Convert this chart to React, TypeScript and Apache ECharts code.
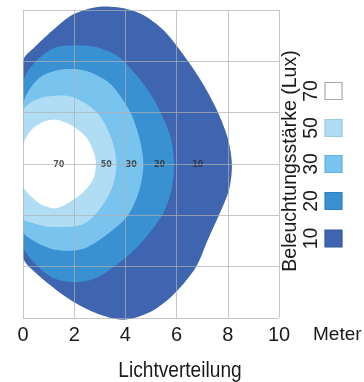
import React, { useEffect, useRef } from "react";
import * as echarts from "echarts";

// Contour outlines (x in Meter, y in Meter), per illuminance level
const level10: number[][] = [
  [0, 4.0], [0.45, 4.55], [1.26, 5.3], [1.9, 5.8], [2.7, 6.08], [3.4, 6.13], [4.1, 6.03], [4.8, 5.75],
  [5.55, 5.15], [6.45, 4.0], [7.1, 3.0], [7.62, 2.0], [8.0, 1.0], [8.16, 0], [8.05, -1.0], [7.65, -2.0],
  [7.2, -3.0], [6.73, -4.06], [5.8, -5.16], [4.9, -5.8], [3.9, -6.07], [2.82, -5.8], [1.65, -5.16],
  [0.3, -4.06], [0, -3.6],
];
const level20: number[][] = [
  [0, 3.1], [0.15, 3.55], [0.6, 4.1], [1.3, 4.55], [2.2, 4.62], [2.9, 4.55], [3.7, 4.2], [4.4, 3.5],
  [5.0, 2.7], [5.43, 1.9], [5.78, 1.0], [5.9, 0], [5.8, -1.0], [5.43, -2.0], [4.5, -3.2], [3.47, -4.06],
  [2.7, -4.5], [1.9, -4.6], [1.2, -4.45], [0.65, -4.06], [0.15, -3.5], [0, -3.15],
];
const level30: number[][] = [
  [0, 2.3], [0.25, 2.9], [0.7, 3.4], [1.4, 3.66], [2.2, 3.68], [2.8, 3.5], [3.47, 3.07], [4.2, 2.0],
  [4.55, 1.0], [4.7, 0], [4.55, -1.0], [4.1, -2.0], [3.47, -2.6], [2.5, -3.25], [1.8, -3.38],
  [1.1, -3.3], [0.36, -2.96], [0, -2.6],
];
const level50: number[][] = [
  [0, 2.05], [0.3, 2.4], [0.9, 2.62], [1.9, 2.62], [2.9, 2.0], [3.45, 1.0], [3.65, 0], [3.45, -1.0],
  [2.8, -2.0], [2.2, -2.4], [1.0, -2.44], [0.4, -2.3], [0, -2.1],
];
const level70: number[][] = [
  [0, 0.7], [0.3, 1.3], [0.8, 1.65], [1.3, 1.72], [1.9, 1.5], [2.5, 1.0], [2.83, 0.2], [2.78, -0.5],
  [2.45, -1.0], [1.95, -1.4], [1.3, -1.72], [0.7, -1.58], [0.25, -1.2], [0, -0.85],
];

const contours = [level10, level20, level30, level50, level70];
const levelNames = ["10", "20", "30", "50", "70"];
const levelColors = ["#3f64b0", "#3a91d2", "#78c4ee", "#b0dcf4", "#ffffff"];
const levelBorders = ["#34579c", "#3080bd", "#64b2dc", "#98c8e2", "#a8a8a8"];

// In-plot label positions on y = 0
const labelX = [6.83, 5.33, 4.23, 3.25, 1.4];
const labelText = ["10", "20", "30", "50", "70"];

const xTicks = [0, 2, 4, 6, 8, 10];

const FONT = "'Liberation Sans', Arial, sans-serif";

export default function App() {
  const ref = useRef<HTMLDivElement>(null);
  useEffect(() => {
    if (!ref.current) return;
    const chart = echarts.init(ref.current, undefined, { renderer: "svg" });

    const series: any[] = contours.map((pts, i) => ({
      type: "custom",
      name: levelNames[i],
      z: 2,
      silent: true,
      data: pts,
      renderItem: (params: any, api: any) => {
        if (params.dataIndex !== 0) return null;
        const px = pts.map((p) => api.coord(p));
        const x0 = api.coord([0, 0])[0];
        return {
          type: "polygon",
          shape: {
            points: px,
            smooth: 0.3,
            smoothConstraint: [[x0, -10000], [10000, 10000]],
          },
          style: { fill: levelColors[i], stroke: null },
        };
      },
    }));

    series.push({
      type: "scatter",
      z: 4,
      symbolSize: 0,
      silent: true,
      data: labelX.map((x, i) => ({ value: [x, 0], label: { formatter: labelText[i] } })),
      label: {
        show: true,
        position: "inside",
        fontSize: 8,
        fontWeight: "bold",
        color: "#2a2a2a",
        fontFamily: "'DejaVu Sans', sans-serif",
      },
    });

    const legendY = [238.5, 201, 164, 128, 91];
    const graphics: any[] = [
      {
        type: "text",
        x: 289,
        y: 161,
        rotation: Math.PI / 2,
        scaleX: 0.93,
        style: {
          text: "Beleuchtungsstärke (Lux)",
          fontSize: 21,
          fontFamily: FONT,
          fill: "#1a1a1a",
          align: "center",
          verticalAlign: "middle",
        },
      },
      {
        type: "text",
        x: 180,
        y: 369,
        scaleX: 0.87,
        style: {
          text: "Lichtverteilung",
          fontSize: 22,
          fontFamily: FONT,
          fill: "#1a1a1a",
          align: "center",
          verticalAlign: "middle",
        },
      },
    ];
    levelNames.forEach((name, i) => {
      graphics.push({
        type: "text",
        x: 310,
        y: legendY[i],
        rotation: Math.PI / 2,
        scaleX: 0.93,
        style: {
          text: name,
          fontSize: 21,
          fontFamily: FONT,
          fill: "#1a1a1a",
          align: "center",
          verticalAlign: "middle",
        },
      });
      graphics.push({
        type: "rect",
        shape: { x: 325, y: legendY[i] - 8.5, width: 17, height: 17 },
        style: { fill: levelColors[i], stroke: levelBorders[i], lineWidth: 1.2 },
      });
    });

    chart.setOption({
      animation: false,
      grid: { left: 23, right: 85, top: 10, bottom: 64, outerBoundsMode: "none", containLabel: false },
      xAxis: {
        type: "value",
        min: 0,
        max: 10,
        interval: 2,
        z: 5,
        name: "Meter",
        nameLocation: "end",
        nameGap: 34,
        nameTextStyle: {
          fontSize: 19,
          color: "#1a1a1a",
          fontFamily: FONT,
          align: "left",
          verticalAlign: "top",
          padding: [6, 0, 0, 0],
        },
        axisLine: { show: false, onZero: false },
        axisTick: { show: false },
        axisLabel: {
          fontSize: 20,
          color: "#1a1a1a",
          fontFamily: FONT,
          margin: 6,
          formatter: (v: number) => (xTicks.includes(v) ? String(v) : ""),
        },
        splitLine: { show: true, lineStyle: { color: "rgba(175,175,175,0.7)", width: 1 } },
      },
      yAxis: {
        type: "value",
        min: -6,
        max: 6,
        interval: 2,
        z: 5,
        axisLine: { show: false, onZero: false },
        axisTick: { show: false },
        axisLabel: { show: false },
        splitLine: { show: true, lineStyle: { color: "rgba(175,175,175,0.7)", width: 1 } },
      },
      graphic: graphics,
      series,
    });
    return () => chart.dispose();
  }, []);
  return (
    <div
      ref={ref}
      style={{ width: 364, height: 382, position: "fixed", left: 0, top: 0 }}
    />
  );
}
